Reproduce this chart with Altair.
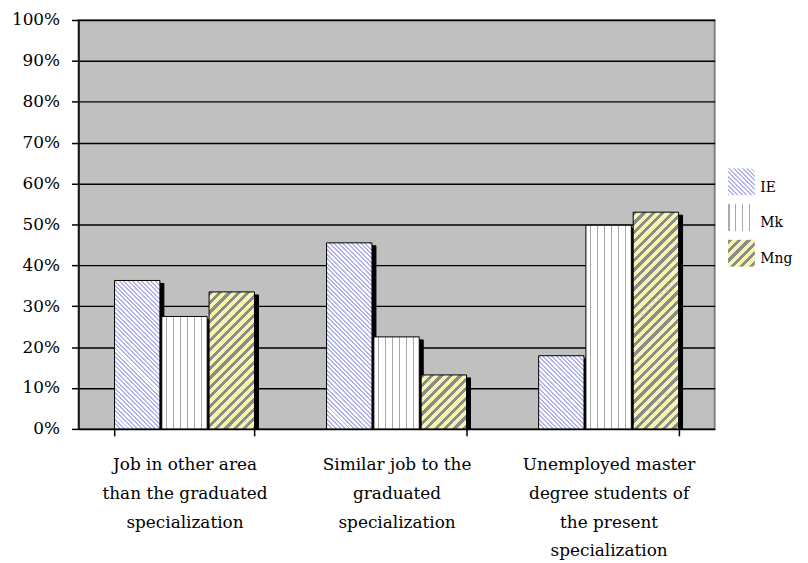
import altair as alt
import pandas as pd

# ---------------- data ----------------
cat_lines = [
    ["Job in other area", "than the graduated", "specialization"],
    ["Similar job to the", "graduated", "specialization"],
    ["Unemployed master", "degree students of", "the present", "specialization"],
]
categories = ["|".join(l) for l in cat_lines]
series = ["IE", "Mk", "Mng"]
ie_values = [0.363, 0.455, 0.179]
mk_values = [0.275, 0.225, 0.498]
mng_values = [0.335, 0.132, 0.530]
y_ticks = [0.0, 0.1, 0.2, 0.3, 0.4, 0.5, 0.6, 0.7, 0.8, 0.9, 1.0]

rows = []
for s, vals in zip(series, [ie_values, mk_values, mng_values]):
    for c, v in zip(categories, vals):
        rows.append({"cat": c, "series": s, "value": v})
df = pd.DataFrame(rows)
leg_df = pd.DataFrame({"series": series})

# ---------------- layout ----------------
W, H = 641, 412
PI, PO = 0.34, 0.17
step = W / (3 - PI + 2 * PO)
bw = step * (1 - PI)
OPI = 0.04
bar_w = bw / (3 - OPI) * (1 - OPI)
FONT = "DejaVu Serif"

IE_FG, IE_BG = "#b2b2ec", "#ffffff"
MK_FG, MK_BG = "#a8a8a8", "#ffffff"
MNG_FG, MNG_BG = "#8c8c8c", "#f6f6ac"


def stripe_stops(span, period, width, fg, bg, start=0.0):
    stops = []
    c = start - period
    while c < span:
        for a, b, col in ((c, c + width, fg), (c + width, c + period, bg)):
            a2, b2 = max(a, 0.0), min(b, span)
            if b2 > a2:
                stops.append({"offset": round(a2 / span, 5), "color": col})
                stops.append({"offset": round(b2 / span, 5), "color": col})
        c += period
    return stops


def diag_grad(w, h, rising, period, width, fg, bg):
    s = (w + h) / (w * w + h * h)
    stops = stripe_stops(w + h, period, width, fg, bg)
    if rising:
        x1, y1, x2, y2 = 0, 0, s * w, s * h
    else:
        x1, y1, x2, y2 = 0, 1, s * w, 1 - s * h
    return {"gradient": "linear", "x1": x1, "y1": y1, "x2": x2, "y2": y2, "stops": stops}


def vert_grad(w, first, period, width, fg, bg):
    return {"gradient": "linear", "x1": 0, "y1": 0, "x2": 1, "y2": 0,
            "stops": stripe_stops(w, period, width, fg, bg, start=first)}


x_axis = alt.Axis(title=None, labelExpr="split(datum.label, '|')", labelAngle=0,
                  labelFont=FONT, labelFontSize=17, labelLineHeight=29, labelPadding=21,
                  labelColor="black", labelLimit=400, tickBand="extent", tickColor="black",
                  tickSize=7, tickWidth=1.5, domainColor="black", domainWidth=1.5, grid=False)
y_axis = alt.Axis(title=None, values=y_ticks, format=".0%", labelFont=FONT, labelFontSize=17,
                  labelPadding=12, labelColor="black", tickColor="black", tickSize=7,
                  tickWidth=1.5, domainColor="black", domainWidth=1.5, grid=True,
                  gridColor="black", gridWidth=1.4)

x_scale = alt.Scale(domain=categories, paddingInner=PI, paddingOuter=PO)
y_scale = alt.Scale(domain=[0, 1], nice=False)


def enc(chart, off_range, **extra):
    return chart.encode(
        x=alt.X("cat:N", scale=x_scale, axis=x_axis, sort=categories),
        xOffset=alt.XOffset("series:N", scale=alt.Scale(domain=series, range=off_range,
                                                         paddingInner=OPI, paddingOuter=0)),
        y=alt.Y("value:Q", scale=y_scale, axis=y_axis),
        **extra,
    )


base = alt.Chart(df)
layers = []
# shadows
layers.append(enc(base.mark_bar(fill="black", stroke="black", strokeWidth=1, yOffset=3),
                  [4, bw + 4], y2=alt.datum(0)))
# Mk: vertical lines
layers.append(enc(base.transform_filter(alt.datum.series == "Mk").mark_bar(
    fill=vert_grad(bar_w, 4.0, 7.0, 1.5, MK_FG, MK_BG), stroke="black", strokeWidth=1),
    [0, bw]))
# IE and Mng: diagonal hatching, one layer per bar
for s, vals, rising, period, width, fg, bg in (
        ("IE", ie_values, False, 4.5, 2.0, IE_FG, IE_BG),
        ("Mng", mng_values, True, 9.5, 4.3, MNG_FG, MNG_BG)):
    for c, v in zip(categories, vals):
        g = diag_grad(bar_w, v * H, rising, period, width, fg, bg)
        layers.append(enc(base.transform_filter((alt.datum.series == s) & (alt.datum.cat == c))
                          .mark_bar(fill=g, stroke="black", strokeWidth=1), [0, bw]))

main = alt.layer(*layers).resolve_scale(xOffset="independent")

# legend
SW = 27
leg_y = alt.Y("series:N", scale=alt.Scale(type="point", domain=series, range=[163, 235],
                                          padding=0), axis=None)
leg_fills = {
    "IE": diag_grad(SW, SW, False, 4.5, 2.0, IE_FG, "#ffffff"),
    "Mk": vert_grad(SW, 0.0, 7.0, 1.5, MK_FG, "#ffffff"),
    "Mng": diag_grad(SW, SW, True, 9.5, 4.3, MNG_FG, MNG_BG),
}
leg_layers = []
for s in series:
    leg_layers.append(alt.Chart(leg_df).transform_filter(alt.datum.series == s)
                      .mark_square(size=SW * SW, fill=leg_fills[s], strokeWidth=0, opacity=1)
                      .encode(x=alt.value(668), y=leg_y))
leg_layers.append(alt.Chart(leg_df).mark_text(align="left", baseline="middle", dy=6, font=FONT,
                                              fontSize=14, color="black")
                  .encode(x=alt.value(687), y=leg_y, text="series:N"))
legend = alt.layer(*leg_layers)

chart = alt.layer(main, legend).resolve_scale(y="independent").properties(
    width=W, height=H,
    autosize=alt.AutoSizeParams(type="none"),
    padding={"left": 71, "top": 10, "right": 86, "bottom": 130},
    background="white",
).configure(font=FONT).configure_view(fill="#c0c0c0", stroke="#808080", strokeWidth=2)

chart.save("out.html", embed_options={"renderer": "svg", "actions": False})
